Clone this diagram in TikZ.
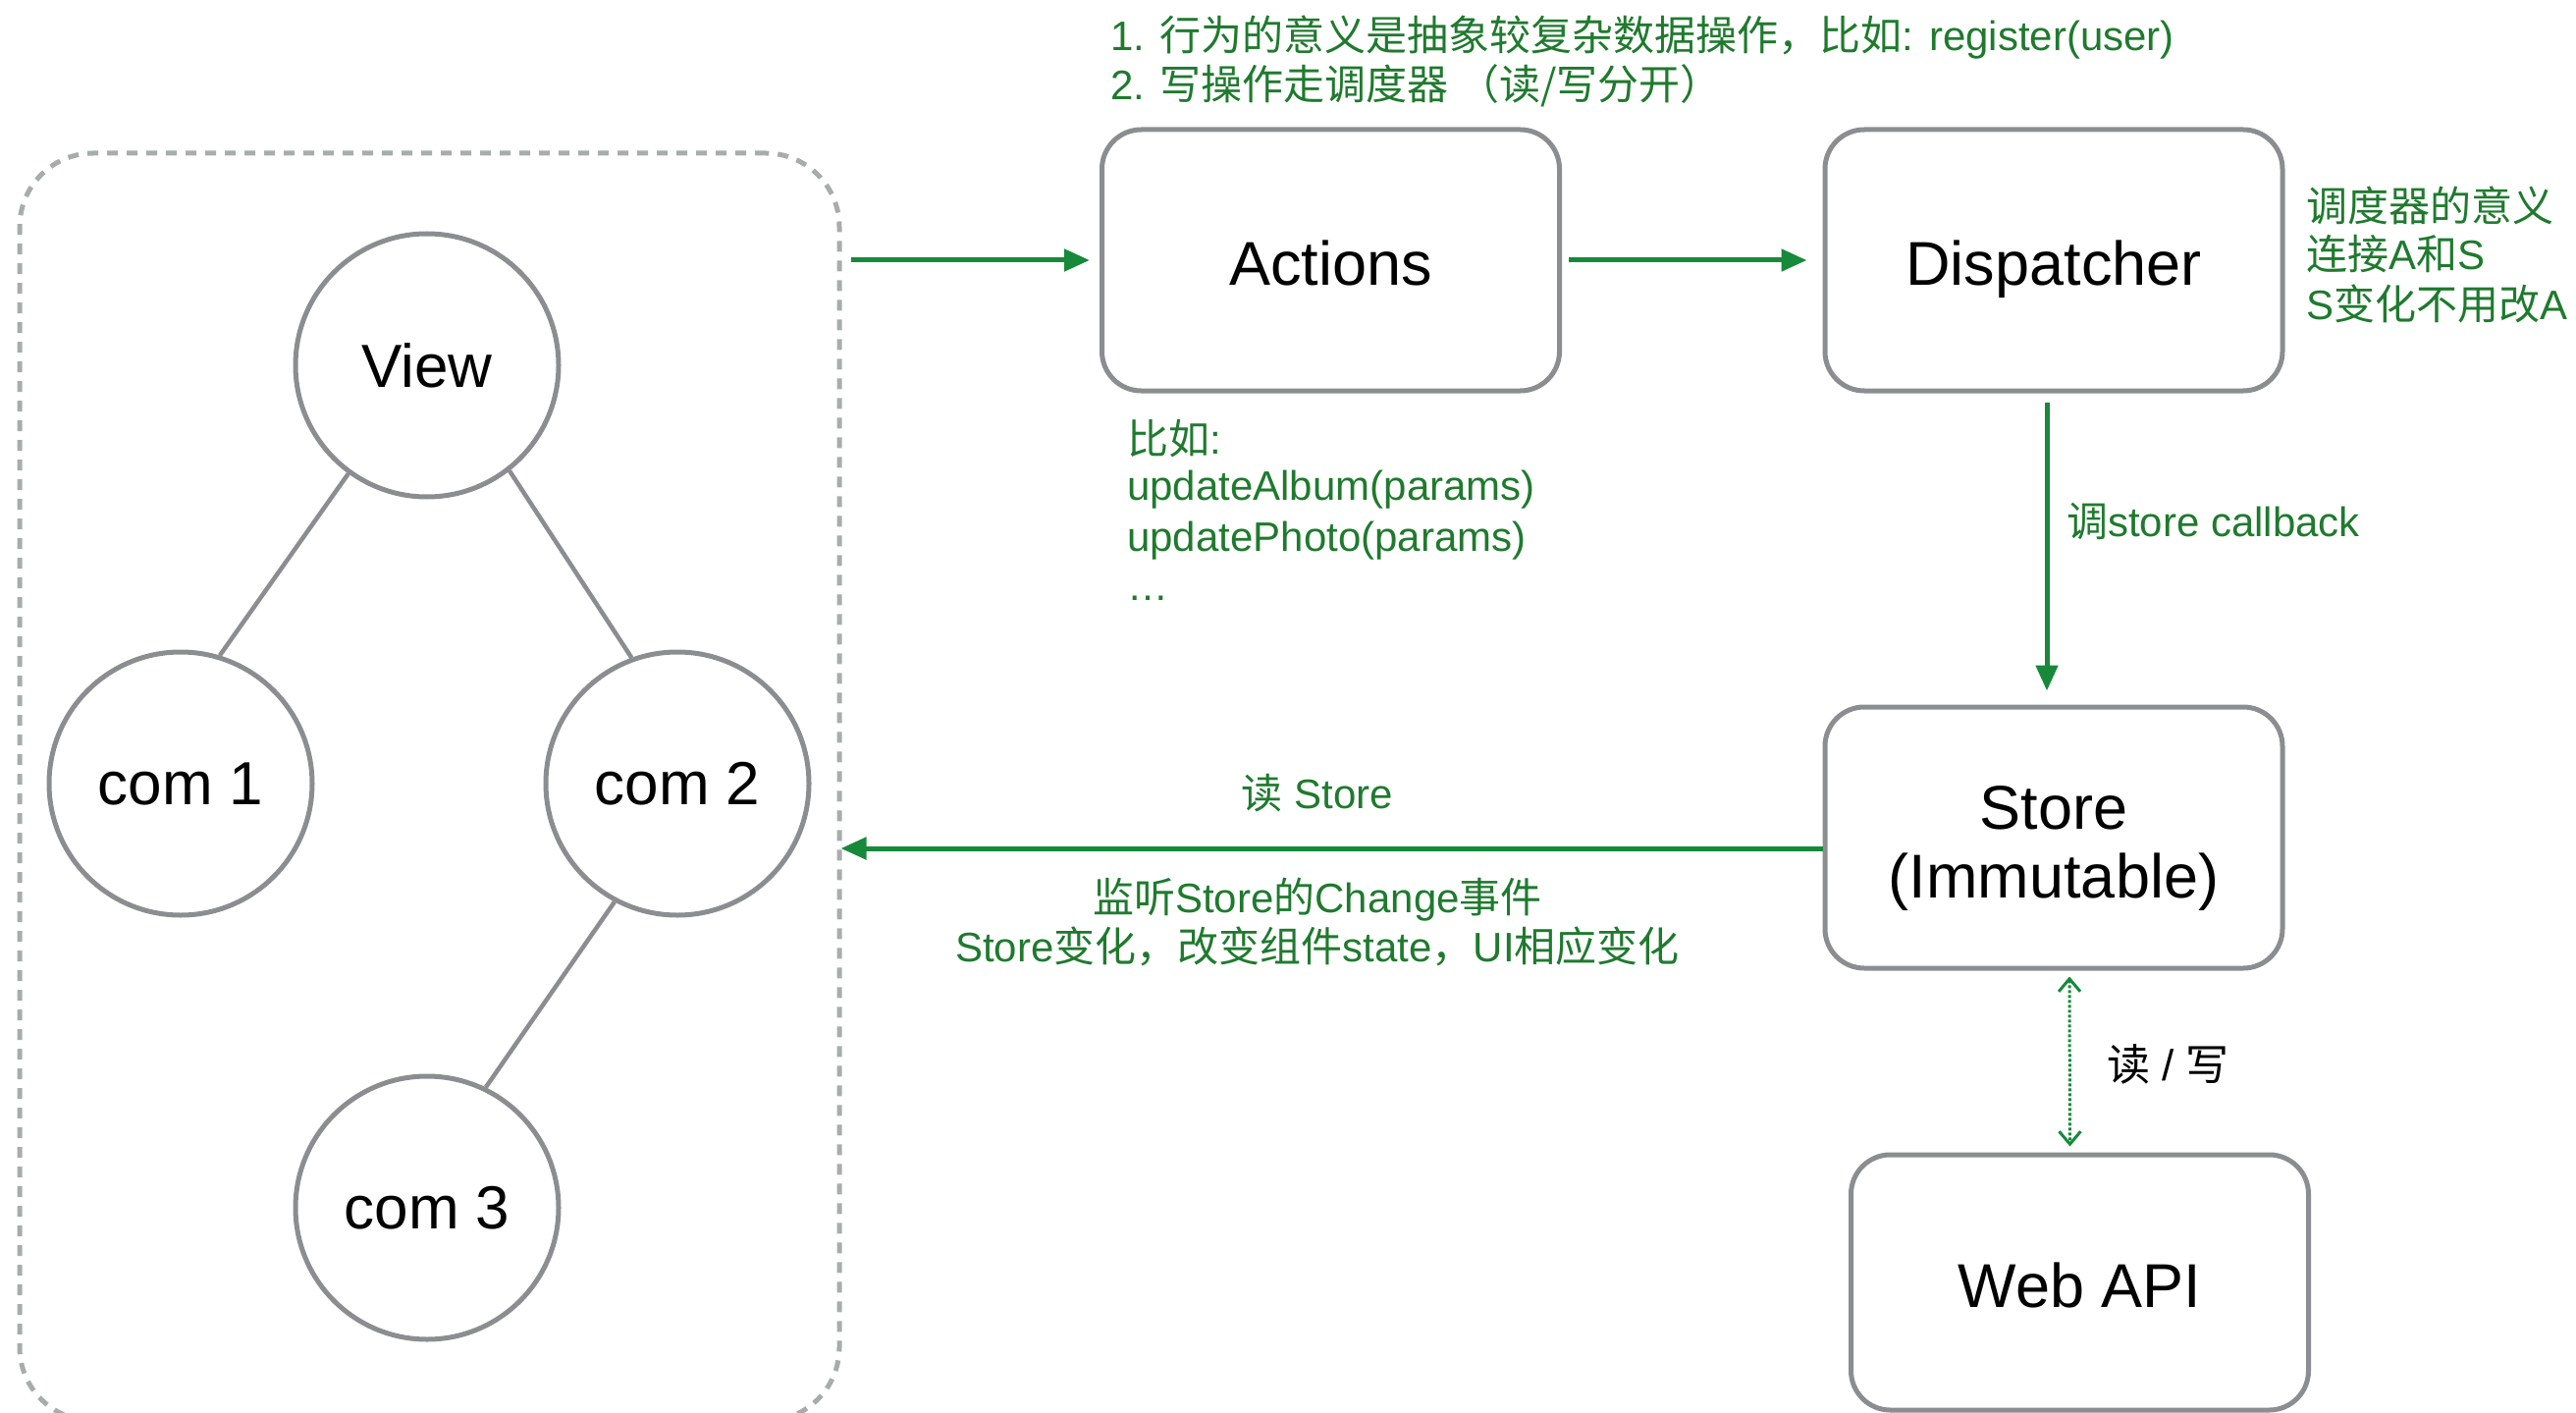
\documentclass[tikz,border=0pt]{standalone}
\usepackage{fontspec}
\setmainfont{Liberation Sans}
\newfontfamily\cjk{Noto Sans CJK SC}
\usetikzlibrary{arrows.meta}
\definecolor{gstroke}{HTML}{8B8D91}
\definecolor{dgray}{HTML}{A9ACAC}
\definecolor{garrow}{HTML}{17893A}
\definecolor{gtext}{HTML}{1F7A2E}
\tikzset{
  circ/.style={circle,draw=gstroke,line width=5pt,minimum size=268pt,inner sep=0pt,font=\fontsize{62}{70}\selectfont},
  rbox/.style={rectangle,rounded corners=40pt,draw=gstroke,line width=5pt,minimum width=466pt,minimum height=266pt,inner sep=0pt,align=center,font=\fontsize{63}{70}\selectfont},
  oneline/.style={text height=64pt,text depth=13pt},
  gline/.style={draw=gstroke,line width=4.5pt},
  garr/.style={draw=garrow,line width=5pt,-{Triangle[length=26pt,width=22pt]}},
  dotarr/.style={draw=garrow,line width=3pt,dotted,{Straight Barb[length=13pt,width=22pt,line width=3pt]}-{Straight Barb[length=13pt,width=22pt,line width=3pt]}},
  note/.style={text=gtext,font=\fontsize{42}{51}\selectfont,inner sep=0pt},
}
\begin{document}
\begin{tikzpicture}[x=1pt,y=-1pt]
\useasboundingbox (0,0) rectangle (2624,1439);
\node[rectangle,rounded corners=75pt,draw=dgray,line width=5pt,dash pattern=on 11pt off 9pt,minimum width=835pt,minimum height=1291pt] (frame) at (437.5,801.5) {};
\node[circ] (view) at (435,372) {View};
\node[circ] (c1) at (184,798) {com 1};
\node[circ] (c2) at (690,798) {com 2};
\node[circ] (c3) at (435,1230) {com 3};
\draw[gline] (view.234) -- (c1.73);
\draw[gline] (view.308) -- (c2.110);
\draw[gline] (c2.242) -- (c3.64);

\node[rbox,oneline] (actions) at (1355.5,265) {Actions};
\node[rbox,oneline] (disp) at (2092,265) {Dispatcher};
\node[rbox] (store) at (2092,853) {\rule{0pt}{66pt}Store\\(Immutable)};
\node[rbox,oneline,minimum height=260pt] (web) at (2118.5,1306) {Web API};

\draw[garr] ([xshift=9pt]frame.east |- actions.west) -- ([xshift=-10pt]actions.west);
\draw[garr] ([xshift=7pt]actions.east) -- ([xshift=-16pt]disp.west);
\draw[garr] ([xshift=-7pt,yshift=-9pt]disp.south) -- ([xshift=-7pt,yshift=14pt]store.north);
\draw[garr] ([yshift=-11pt]store.west) -- ([yshift=-11pt,xshift=-1pt]store.west -| frame.east);
\draw[dotarr] ([xshift=16pt,yshift=-6pt]store.south) -- ([xshift=-10pt,yshift=6pt]web.north);

\node[note,anchor=base west] (t1) at (1131,52) {1. {\cjk 行为的意义是抽象较复杂数据操作，比如}: register(user)};
\node[note,anchor=base west] (t2) at (1131,102) {2. {\cjk 写操作走调度器 （读/写分开）}};
\node[note,anchor=base west] (r1) at (2349,226) {\cjk 调度器的意义};
\node[note,anchor=base west] (r2) at (2349,275) {{\cjk 连接}A{\cjk 和}S};
\node[note,anchor=base west] (r3) at (2349,326) {S{\cjk 变化不用改}A};
\node[note,anchor=base west] (a1) at (1148,462) {{\cjk 比如}:};
\node[note,anchor=base west] (a2) at (1148,509) {updateAlbum(params)};
\node[note,anchor=base west] (a3) at (1148,561) {updatePhoto(params)};
\node[note,anchor=base west] (a4) at (1148,611) {\dots};
\node[note,anchor=base west] (cb) at (2105,546) {{\cjk 调}store callback};
\node[note,anchor=base] (rs) at (1342,823) {{\cjk 读} Store};
\node[note,anchor=base] (l1) at (1342,929) {{\cjk 监听}Store{\cjk 的}Change{\cjk 事件}};
\node[note,anchor=base] (l2) at (1342,979) {Store{\cjk 变化，改变组件}state{\cjk ，}UI{\cjk 相应变化}};
\node[inner sep=0pt,anchor=base west,font=\fontsize{44}{51}\selectfont] (rw) at (2146,1100) {{\cjk 读}\ /\ {\cjk 写}};
\end{tikzpicture}
\end{document}
